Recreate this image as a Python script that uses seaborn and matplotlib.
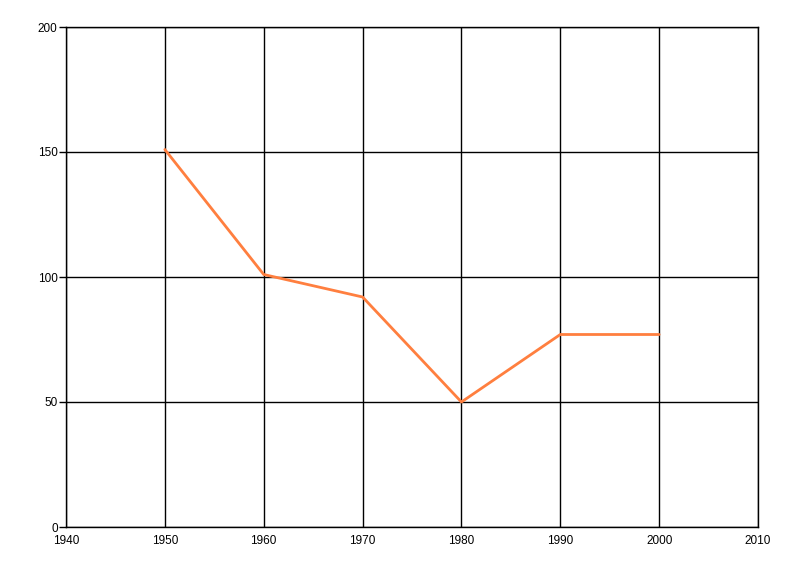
import matplotlib
matplotlib.use("Agg")
import matplotlib.pyplot as plt
import seaborn as sns
import pandas as pd

years = [1950, 1960, 1970, 1980, 1990, 2000]
values = [151, 101, 92, 50, 77, 77]
x_ticks = [1940, 1950, 1960, 1970, 1980, 1990, 2000, 2010]
y_ticks = [0, 50, 100, 150, 200]

sns.set_style("white")
plt.rcParams['font.family'] = ['Liberation Sans', 'DejaVu Sans']

df = pd.DataFrame({"year": years, "value": values})

fig = plt.figure(figsize=(8, 5.76), dpi=100)
ax = fig.add_axes([66/800, 49/576, 692/800, 500/576])
sns.lineplot(data=df, x="year", y="value", ax=ax, color="#FF7F3F", linewidth=2)

ax.set_xlim(1940, 2010)
ax.set_ylim(0, 200)
ax.set_xticks(x_ticks)
ax.set_yticks(y_ticks)
ax.grid(True, color="black", linewidth=1)
ax.set_axisbelow(True)
for s in ax.spines.values():
    s.set_color("black")
    s.set_linewidth(1)
ax.set_xlabel("")
ax.set_ylabel("")
ax.tick_params(axis="y", left=True, direction="out", length=5, width=1, color="black",
               labelcolor="black", labelsize=8.5, pad=1)
ax.tick_params(axis="x", bottom=False, labelcolor="black", labelsize=8.5, pad=2)
fig.savefig("out.png", dpi=100)
